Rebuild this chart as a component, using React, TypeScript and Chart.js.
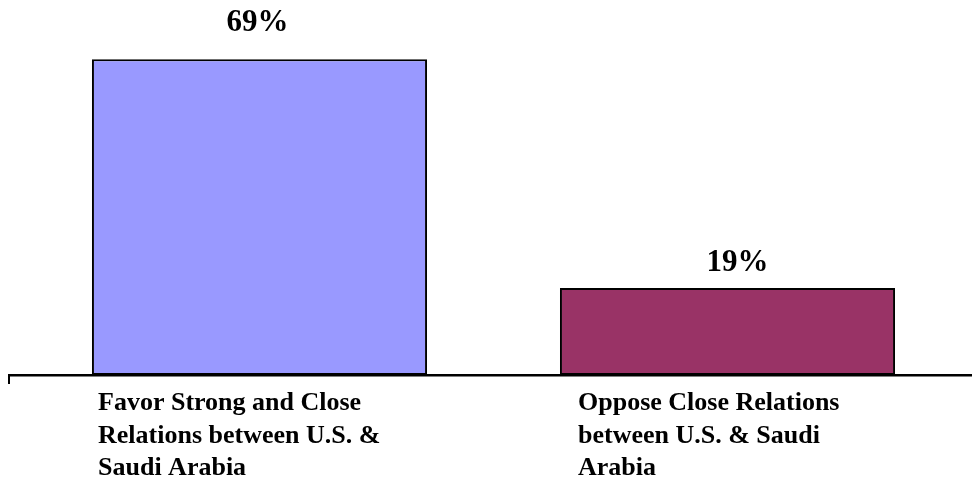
import React, { useEffect, useRef } from "react";
import { Chart, registerables } from "chart.js";

Chart.register(...registerables);

const categories: string[][] = [
  ["Favor Strong and Close", "Relations between U.S. &", "Saudi Arabia"],
  ["Oppose Close Relations", "between U.S. & Saudi", "Arabia"],
];
const values: number[] = [69, 19];
const valueLabels: string[] = ["69%", "19%"];
const barColors: string[] = ["#9999FF", "#993366"];

const SERIF = '"Liberation Serif", "Times New Roman", serif';

const labelsPlugin = {
  id: "customLabels",
  afterDatasetsDraw(chart: any) {
    const { ctx, chartArea } = chart;
    const xs = chart.scales.x;
    const ys = chart.scales.y;
    const y0 = ys.getPixelForValue(0);
    ctx.save();
    // axis line
    ctx.fillStyle = "#000";
    ctx.fillRect(chartArea.left - 17.5, y0 - 1, chart.width - (chartArea.left - 17.5), 2.5);
    ctx.fillRect(chartArea.left - 17.5, y0 - 1, 2, 10);

    // value labels
    const valDx = [-2, 10];
    const valDy = [28.5, 16.8];
    ctx.font = `bold 31px ${SERIF}`;
    ctx.textAlign = "center";
    ctx.textBaseline = "alphabetic";
    values.forEach((v, i) => {
      const x = xs.getPixelForValue(i) + valDx[i];
      const y = ys.getPixelForValue(v) - valDy[i];
      ctx.fillText(valueLabels[i], x, y);
    });

    // category labels
    const catDx = [-161.5, -149.5];
    ctx.font = `bold 26px ${SERIF}`;
    ctx.textAlign = "left";
    categories.forEach((lines, i) => {
      const x = xs.getPixelForValue(i) + catDx[i];
      lines.forEach((line, j) => {
        ctx.fillText(line, x, y0 + 35 + j * 32.5);
      });
    });
    ctx.restore();
  },
};

export default function App() {
  const ref = useRef<HTMLCanvasElement | null>(null);
  useEffect(() => {
    if (!ref.current) return;
    const chart = new Chart(ref.current, {
      type: "bar",
      data: {
        labels: categories.map((c) => c.join(" ")),
        datasets: [
          {
            data: values,
            backgroundColor: barColors,
            borderColor: "#000",
            borderWidth: 2,
            borderSkipped: false,
            categoryPercentage: 1,
            barPercentage: 0.716,
          },
        ],
      },
      options: {
        responsive: false,
        animation: false,
        layout: { padding: { left: 25.5, right: 10.5, top: 9, bottom: 104 } },
        plugins: { legend: { display: false }, tooltip: { enabled: false }, title: { display: false } },
        scales: {
          x: { display: false },
          y: { display: false, min: 0, max: 80 },
        },
      },
      plugins: [labelsPlugin],
    });
    return () => chart.destroy();
  }, []);
  return (
    <div style={{ position: "fixed", left: 0, top: 0, width: 972, height: 479, background: "#fff" }}>
      <canvas ref={ref} width={972} height={479} style={{ display: "block" }} />
    </div>
  );
}
